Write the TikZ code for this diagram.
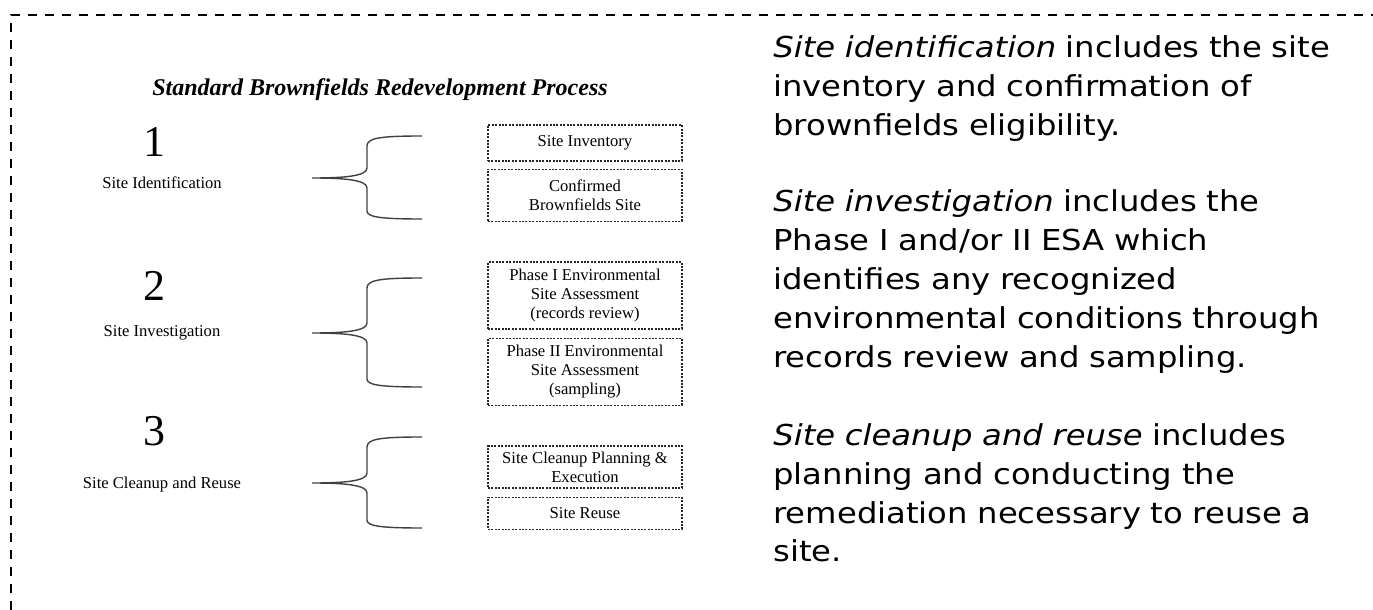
\documentclass[tikz,border=0pt]{standalone}
\usepackage{fontspec}
\setmainfont{Liberation Serif}
\newfontfamily\notefont[FakeStretch=1.12]{DejaVu Sans}
\usetikzlibrary{positioning}

\tikzset{
  stagenum/.style={anchor=base, inner sep=0pt, font=\fontsize{22}{24}\selectfont},
  stage/.style={anchor=base, inner sep=0pt, font=\fontsize{8.3}{9.5}\selectfont},
  taskbox/.style={draw=black!85, line width=0.55pt, dash pattern=on 1pt off 0.7pt,
    minimum width=97pt, inner sep=0pt, align=center, font=\fontsize{8.3}{9.5}\selectfont},
  curly/.style={draw=black!75, line width=0.7pt},
  note/.style={anchor=base west, inner sep=0pt, text width=330pt, align=left,
    font=\notefont\fontsize{14.4}{19.5}\selectfont},
}

\begin{document}
\begin{tikzpicture}[x=0.5pt,y=-0.5pt]
    \useasboundingbox (0,0) rectangle (1373,610);
    % Frame
    \draw[line width=1pt, dash pattern=on 4.5pt off 4pt] (11,610) -- (11,15) -- (1373,15);

    % Define nodes
    \node[anchor=base, inner sep=0pt, font=\fontsize{12}{14}\selectfont\bfseries\itshape] (title) at (380,96) {Standard Brownfields Redevelopment Process};

    \node[stagenum] (n1) at (154,157) {1};
    \node[stage] (s1) at (162,189) {Site Identification};
    \node[stagenum] (n2) at (154,300) {2};
    \node[stage] (s2) at (162,336) {Site Investigation};
    \node[stagenum] (n3) at (154,445) {3};
    \node[stage] (s3) at (162,488) {Site Cleanup and Reuse};

    \node[taskbox, minimum height=18pt] (inv) at (585,143) {Site Inventory};
    \node[taskbox, minimum height=26pt, below=3.5pt of inv] (conf) {Confirmed\\Brownfields Site};
    \node[taskbox, minimum height=33.5pt] (esa1) at (585,295.5) {Phase I Environmental\\Site Assessment\\(records review)};
    \node[taskbox, minimum height=33.5pt, below=4pt of esa1] (esa2) {Phase II Environmental\\Site Assessment\\(sampling)};
    \node[taskbox, minimum height=21pt] (plan) at (585,467) {Site Cleanup Planning \&\\Execution};
    \node[taskbox, minimum height=16pt, below=4pt of plan] (reuse) {Site Reuse};

    \coordinate (tip1) at (312,178);
    \coordinate (top1) at (422,136);
    \coordinate (bot1) at (422,219);
    \coordinate (tip2) at (312,333);
    \coordinate (top2) at (422,278);
    \coordinate (bot2) at (422,387);
    \coordinate (tip3) at (312,483);
    \coordinate (top3) at (422,437);
    \coordinate (bot3) at (422,528);

    % Draw braces
    \draw[curly] (top1) .. controls (380,136) and (367,138) .. (367,146) -- (367,168)
        .. controls (367,176) and (345,178) .. (tip1)
        .. controls (345,178) and (367,180) .. (367,188) -- (367,211)
        .. controls (367,217) and (380,219) .. (bot1);
    \draw[curly] (top2) .. controls (380,278) and (367,280) .. (367,288) -- (367,323)
        .. controls (367,331) and (345,333) .. (tip2)
        .. controls (345,333) and (367,335) .. (367,343) -- (367,379)
        .. controls (367,385) and (380,387) .. (bot2);
    \draw[curly] (top3) .. controls (380,437) and (367,439) .. (367,447) -- (367,473)
        .. controls (367,481) and (345,483) .. (tip3)
        .. controls (345,483) and (367,485) .. (367,493) -- (367,520)
        .. controls (367,526) and (380,528) .. (bot3);

    % Notes
    \node[note] (p1) at (773,58) {\textit{Site identification} includes the site\\
        inventory and confirmation of\\brownfields eligibility.};
    \node[note] (p2) at (773,212) {\textit{Site investigation} includes the\\
        Phase I and/or II ESA which\\identifies any recognized\\
        environmental conditions through\\records review and sampling.};
    \node[note] (p3) at (773,445) {\textit{Site cleanup and reuse} includes\\
        planning and conducting the\\remediation necessary to reuse a\\site.};

\end{tikzpicture}
\end{document}
